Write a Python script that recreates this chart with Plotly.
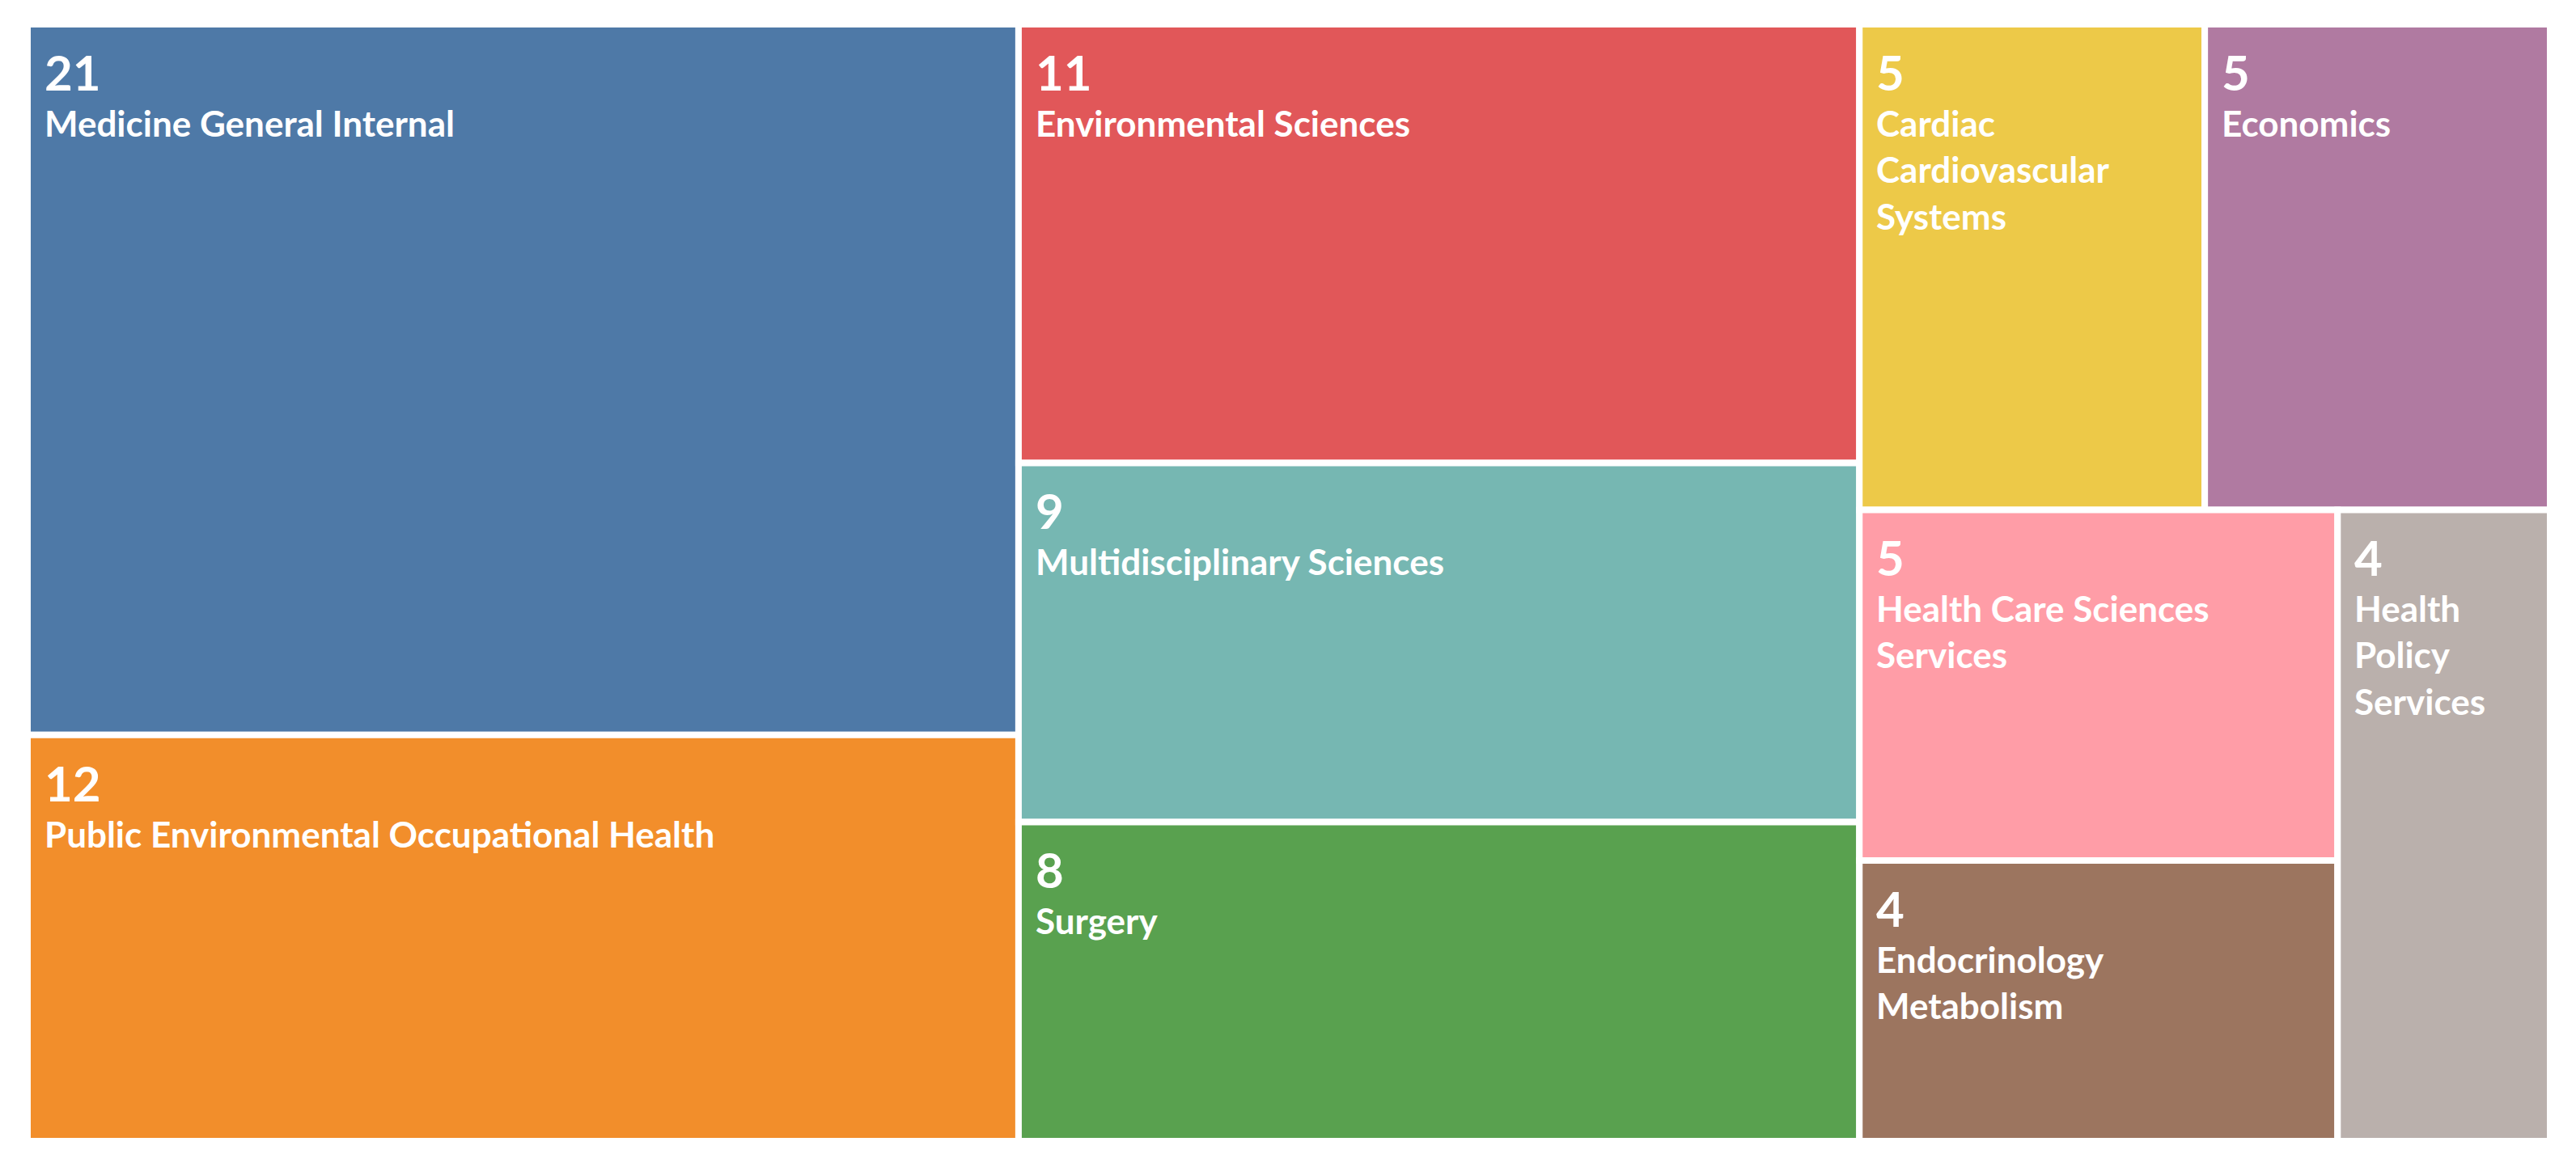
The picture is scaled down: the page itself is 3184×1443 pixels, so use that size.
import plotly.graph_objects as go

# categories and record counts
categories = ["Medicine General Internal", "Public Environmental Occupational Health",
              "Environmental Sciences", "Multidisciplinary Sciences", "Surgery",
              "Cardiac Cardiovascular Systems", "Economics", "Health Care Sciences Services",
              "Endocrinology Metabolism", "Health Policy Services"]
counts = [21, 12, 11, 9, 8, 5, 5, 5, 4, 4]
# how the label wraps inside narrow tiles
wrapped = ["Medicine General Internal", "Public Environmental Occupational Health",
           "Environmental Sciences", "Multidisciplinary Sciences", "Surgery",
           "Cardiac<br>Cardiovascular<br>Systems", "Economics",
           "Health Care Sciences<br>Services", "Endocrinology<br>Metabolism",
           "Health<br>Policy<br>Services"]
colors = ["#4e79a7", "#f28e2b", "#e15759", "#76b7b2", "#59a14f",
          "#edc948", "#b07aa1", "#ff9da7", "#9c755f", "#bab0ac"]

# tiling structure: 'h' splits side by side, 'v' stacks top to bottom
tiling = ("h", [("v", [0, 1]),
                ("v", [2, 3, 4]),
                ("v", [("h", [5, 6]),
                       ("h", [("v", [7, 8]), 9])])])


def total(node):
    if isinstance(node, int):
        return counts[node]
    return sum(total(c) for c in node[1])


def layout(node, x0, y0, x1, y1, out):
    if isinstance(node, int):
        out[node] = (x0, y0, x1, y1)
        return
    kind, kids = node
    s = total(node)
    pos = 0.0
    for k in kids:
        f = total(k) / s
        if kind == "h":
            layout(k, x0 + (x1 - x0) * pos, y0, x0 + (x1 - x0) * (pos + f), y1, out)
        else:
            # stacked from the top down
            layout(k, x0, y1 - (y1 - y0) * (pos + f), x1, y1 - (y1 - y0) * pos, out)
        pos += f


rects = {}
layout(tiling, 0, 0, 1, 1, rects)

fig = go.Figure()
shapes, notes = [], []
for i in range(len(categories)):
    x0, y0, x1, y1 = rects[i]
    shapes.append(dict(type="rect", xref="x", yref="y", x0=x0, y0=y0, x1=x1, y1=y1,
                       fillcolor=colors[i], line=dict(color="white", width=8), layer="below"))
    notes.append(dict(x=x0 + 0.006, y=y1 - 0.015, xref="x", yref="y", xanchor="left", yanchor="top",
                      align="left", showarrow=False,
                      text=f"<span style='font-size:60px'><b>{counts[i]}</b></span><br><b>{wrapped[i]}</b>",
                      font=dict(family="Lato, Open Sans, sans-serif", size=44, color="white")))

# invisible points so hover shows each category
fig.add_trace(go.Scatter(
    x=[(rects[i][0] + rects[i][2]) / 2 for i in range(len(categories))],
    y=[(rects[i][1] + rects[i][3]) / 2 for i in range(len(categories))],
    mode="markers", marker=dict(opacity=0), hovertext=categories, hoverinfo="text"))

fig.update_layout(width=3184, height=1443, shapes=shapes, annotations=notes,
                  showlegend=False, plot_bgcolor="white", paper_bgcolor="white",
                  margin=dict(l=26, r=40, t=22, b=40),
                  xaxis=dict(range=[0, 1], visible=False, fixedrange=True),
                  yaxis=dict(range=[0, 1], visible=False, fixedrange=True))
fig.write_html("out.html")
